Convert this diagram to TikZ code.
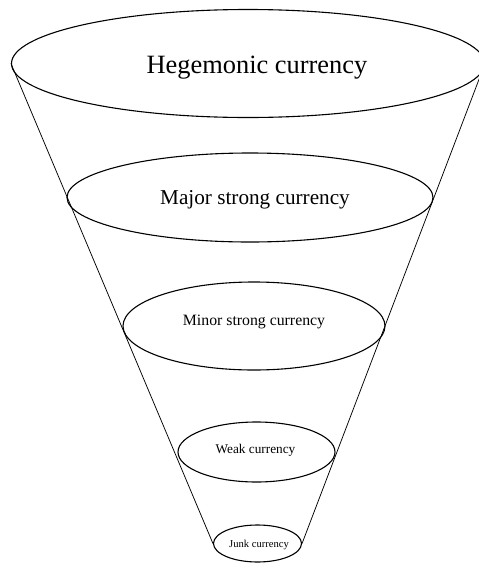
\documentclass[tikz,border=0pt]{standalone}
\usepackage{fontspec}
\setmainfont{Liberation Serif}
\usetikzlibrary{shapes.geometric}
\begin{document}
\begin{tikzpicture}[x=1pt,y=-1pt,
  tier/.style={draw=black, line width=1.1pt, ellipse, inner sep=0pt, fill=none},
  side/.style={draw=black, line width=0.75pt},
  lbl/.style={inner sep=0pt, text=black}]
\useasboundingbox (0,0) rectangle (479,563);
\clip (0,0) rectangle (479,563);
% funnel tiers
\node[tier, minimum width=473pt, minimum height=108pt] (t1) at (248,63.5) {};
\node[tier, minimum width=366pt, minimum height=89pt]  (t2) at (250,197.5) {};
\node[tier, minimum width=262pt, minimum height=88pt]  (t3) at (254,326) {};
\node[tier, minimum width=157pt, minimum height=60pt]  (t4) at (256.5,452) {};
\node[tier, minimum width=88pt,  minimum height=37pt]  (t5) at (257.5,543.5) {};
% funnel sides
\draw[side] (t1.west) -- (t5.west);
\draw[side] (t1.east) -- (t5.east);
% tier labels
\node[lbl, font=\fontsize{26.4}{30}\selectfont] (l1) at (257,68) {Hegemonic currency};
\node[lbl, font=\fontsize{21.2}{25}\selectfont] (l2) at (255,200) {Major strong currency};
\node[lbl, font=\fontsize{15.8}{19}\selectfont] (l3) at (254,322) {Minor strong currency};
\node[lbl, font=\fontsize{13.3}{16}\selectfont] (l4) at (255.5,450) {Weak currency};
\node[lbl, font=\fontsize{10.6}{13}\selectfont] (l5) at (259,545) {Junk currency};
\end{tikzpicture}
\end{document}
